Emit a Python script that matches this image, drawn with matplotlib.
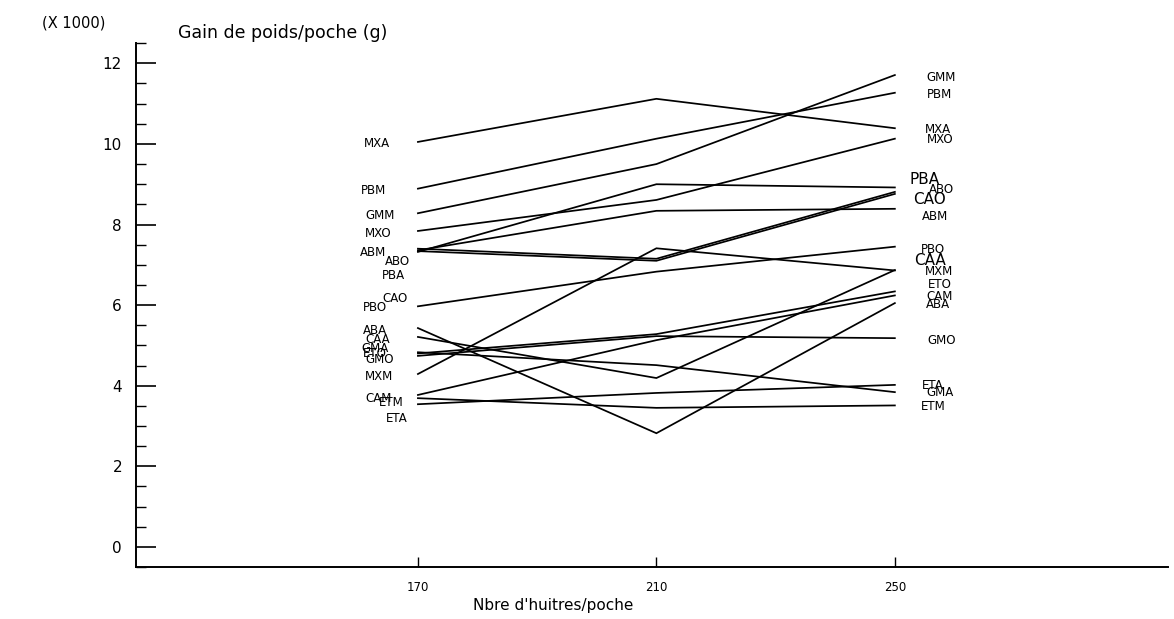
import matplotlib
matplotlib.use("Agg")
import matplotlib.pyplot as plt
from matplotlib.ticker import MultipleLocator

# Stocking density (oysters per bag)
densities = [170, 210, 250]

# Weight gain per bag (g) for each site/batch code
MXA = [10050, 11120, 10390]
PBM = [8890, 10130, 11270]
GMM = [8280, 9500, 11710]
MXO = [7840, 8610, 10130]
ABM = [7360, 8340, 8390]
ABO = [7320, 9000, 8920]
PBA = [7400, 7150, 8810]
CAO = [7340, 7100, 8760]
PBO = [5970, 6830, 7450]
ABA = [5430, 2820, 6050]
CAA = [5210, 4190, 6870]
GMA = [4830, 4510, 3840]
ETO = [4800, 5280, 6340]
GMO = [4740, 5230, 5180]
MXM = [4290, 7410, 6860]
CAM = [3770, 5130, 6240]
ETM = [3690, 3450, 3510]
ETA = [3540, 3820, 4020]

series = {
    "MXA": MXA, "PBM": PBM, "GMM": GMM, "MXO": MXO, "ABM": ABM, "ABO": ABO,
    "PBA": PBA, "CAO": CAO, "PBO": PBO, "ABA": ABA, "CAA": CAA, "GMA": GMA,
    "ETO": ETO, "GMO": GMO, "MXM": MXM, "CAM": CAM, "ETM": ETM, "ETA": ETA,
}

y_ticks = [0, 2, 4, 6, 8, 10, 12]

# End-label placement: (dx, dy) in pixels from the line end, dy positive = up
left_layout = {
    "MXA": (-40.5, -0.5), "PBM": (-44, -1), "GMM": (-38, -1), "MXO": (-40, -2),
    "ABM": (-45, -1.3), "ABO": (-20.5, -8.5), "PBA": (-24, -26.5),
    "CAO": (-22.5, -46.5), "PBO": (-43, 0), "ABA": (-43, -2), "CAA": (-40, -1.5),
    "GMA": (-43, 5), "ETO": (-43, 0.5), "GMO": (-38, -2.5), "MXM": (-39, -2),
    "CAM": (-39, -2.5), "ETM": (-26.5, -4), "ETA": (-21, -13),
}
right_layout = {
    "GMM": (46.5, -1.5), "PBM": (45, -1.3), "MXA": (43.5, 0), "MXO": (45, 0.5),
    "PBA": (30, 13.5), "ABO": (46.5, -0.8), "CAO": (35, -4.5), "ABM": (40.5, -6.5),
    "PBO": (38.5, -1.8), "CAA": (35, 11), "MXM": (44, 0), "ETO": (45, 8.2),
    "CAM": (45, 0), "ABA": (43.5, -0.5), "GMO": (46.5, -1.2), "ETA": (37.5, 0),
    "GMA": (45, 0), "ETM": (38.5, 0),
}
large_right = {"PBA", "CAO", "CAA"}

PX = 0.72  # points per pixel at 100 dpi

fig = plt.figure(figsize=(11.74, 6.19), dpi=100)
ax = fig.add_axes([0.1158, 0.0840, 0.8790, 0.8462])

for name, vals in series.items():
    ax.plot(densities, [v / 1000 for v in vals], color="black", lw=1.25,
            solid_joinstyle="miter")


def end_label(name, x, y, dx, dy, size):
    cap_shift = 0.729 * size / 2
    ax.annotate(name, xy=(x, y), xytext=(dx * PX, dy * PX - cap_shift),
                textcoords="offset points", ha="center", va="baseline",
                fontsize=size, color="black", annotation_clip=False)


for name, vals in series.items():
    dx, dy = left_layout[name]
    end_label(name, densities[0], vals[0] / 1000, dx, dy, 8.5)
    dx, dy = right_layout[name]
    size = 11 if name in large_right else 8.5
    end_label(name, densities[-1], vals[-1] / 1000, dx, dy, size)

ax.set_xlim(122.7, 295.8)
ax.set_ylim(-0.5, 12.5)
ax.set_xticks(densities)
ax.set_xticklabels([str(d) for d in densities])
ax.set_yticks(y_ticks)
ax.yaxis.set_minor_locator(MultipleLocator(0.5))

for side in ("top", "right"):
    ax.spines[side].set_visible(False)
for side in ("left", "bottom"):
    ax.spines[side].set_linewidth(1.4)

ax.tick_params(axis="y", which="major", direction="in", length=14.4, width=1.2,
               pad=10, labelsize=11)
ax.tick_params(axis="y", which="minor", direction="in", length=7.2, width=1.0)
ax.tick_params(axis="x", which="major", direction="in", length=7.2, width=1.0,
               pad=10, labelsize=8.5)

ax.set_xlabel("Nbre d'huitres/poche", fontsize=11)
ax.xaxis.set_label_coords((553 - 136) / 1032, -0.059)

fig.text(74 / 1174, 1 - 22.5 / 619, "(X 1000)", ha="center", va="center",
         fontsize=10.5)
fig.text(178 / 1174, 1 - 33 / 619, "Gain de poids/poche (g)", ha="left",
         va="center", fontsize=12.5)

fig.savefig("out.png", dpi=100)
